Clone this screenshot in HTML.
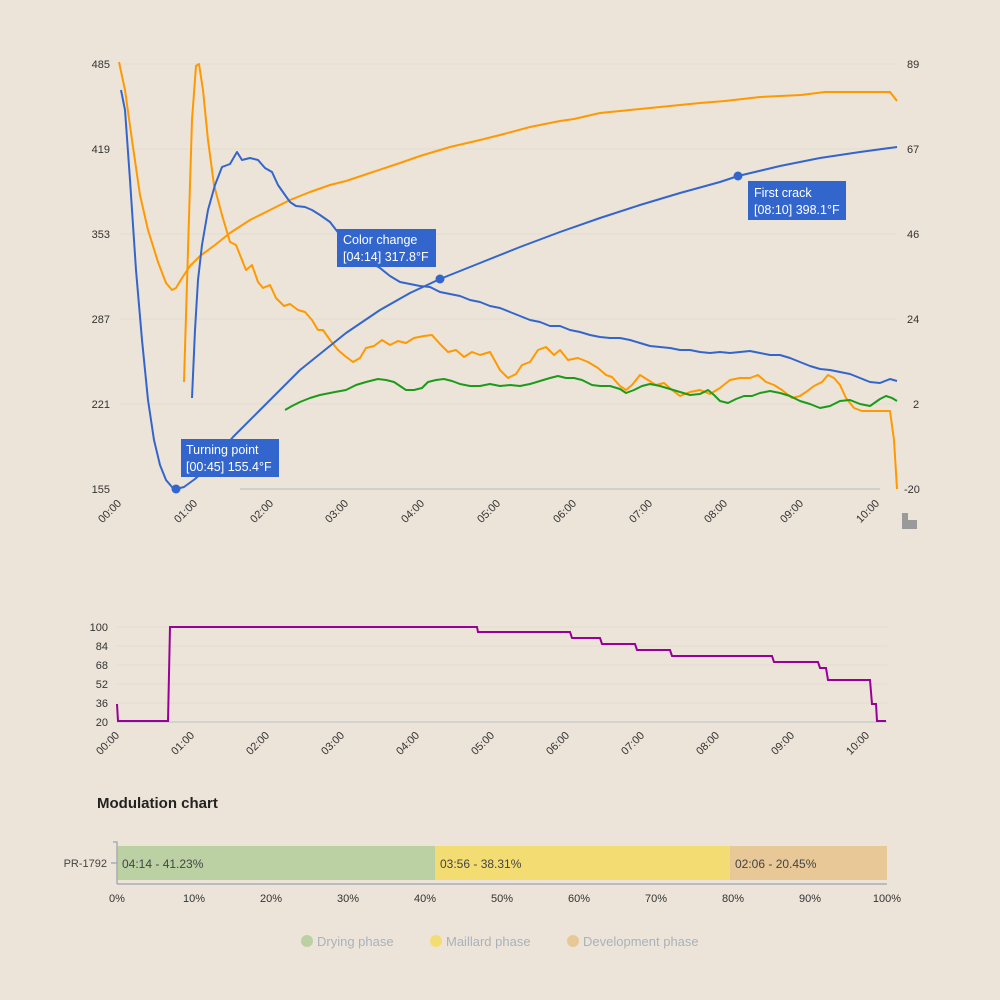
<!DOCTYPE html>
<html><head><meta charset="utf-8"><style>
body{margin:0;background:#ece4d8;}
svg{display:block;font-family:"Liberation Sans",sans-serif;}
</style></head><body>
<svg width="1000" height="1000" viewBox="0 0 1000 1000">
<rect width="1000" height="1000" fill="#ece4d8"/>
<!-- top chart grid -->
<g stroke="#e2dbd0" stroke-width="1">
<line x1="119" y1="64" x2="897" y2="64"/><line x1="119" y1="149" x2="897" y2="149"/><line x1="119" y1="234" x2="897" y2="234"/><line x1="119" y1="319" x2="897" y2="319"/><line x1="119" y1="404" x2="897" y2="404"/>
</g>
<line x1="240" y1="489" x2="880" y2="489" stroke="#c8c8c8" stroke-width="1.5"/>
<g font-size="11" fill="#333">
<text x="110" y="68" text-anchor="end">485</text><text x="110" y="153" text-anchor="end">419</text><text x="110" y="238" text-anchor="end">353</text><text x="110" y="323" text-anchor="end">287</text><text x="110" y="408" text-anchor="end">221</text><text x="110" y="493" text-anchor="end">155</text>
<text x="907" y="68">89</text><text x="907" y="153">67</text><text x="907" y="238">46</text><text x="907" y="323">24</text><text x="913" y="408">2</text><text x="904" y="493">-20</text>
</g>
<g font-size="11" fill="#333" text-anchor="end">
<text transform="translate(122,504) rotate(-45)">00:00</text><text transform="translate(198,504) rotate(-45)">01:00</text><text transform="translate(274,504) rotate(-45)">02:00</text><text transform="translate(349,504) rotate(-45)">03:00</text><text transform="translate(425,504) rotate(-45)">04:00</text><text transform="translate(501,504) rotate(-45)">05:00</text><text transform="translate(577,504) rotate(-45)">06:00</text><text transform="translate(653,504) rotate(-45)">07:00</text><text transform="translate(728,504) rotate(-45)">08:00</text><text transform="translate(804,504) rotate(-45)">09:00</text><text transform="translate(880,504) rotate(-45)">10:00</text>
</g>
<g fill="none" stroke-width="2" stroke-linejoin="round">
<polyline stroke="#ff9900" points="119,62 125,90 132,140 140,195 148,230 158,262 166,283 172,290 176,288 182,278 190,266 200,256 215,245 230,233 250,220 270,210 290,200 310,192 330,185 346,181 370,173 400,163 420,156 450,147 480,140 500,135 530,127 560,121 574,119 600,113 630,110 650,108 680,105 700,103 725,101 760,97 801,95 825,92 890,92 897,101"/>
<polyline stroke="#ff9900" points="184,382 188,250 192,120 196,66 199,64 203,90 208,140 214,185 222,215 230,242 236,245 242,260 246,270 252,265 258,282 263,288 270,285 276,298 284,306 290,304 298,310 305,312 312,320 318,330 323,330 330,340 338,350 345,356 353,362 360,358 366,348 374,346 382,340 390,345 398,341 406,343 414,338 424,336 432,335 440,344 448,352 456,350 464,357 472,352 480,355 490,352 500,370 508,378 516,374 522,365 530,362 538,350 546,347 554,355 560,350 568,360 578,358 588,362 598,368 606,375 612,377 620,386 626,390 632,385 640,375 648,380 656,385 664,383 672,390 680,396 690,392 700,390 710,394 720,388 730,380 740,378 750,378 758,375 766,382 774,385 782,390 792,398 800,396 806,392 814,386 822,382 828,375 834,378 840,385 846,398 854,408 862,411 870,411 890,411 894,440 897,489"/>
<polyline stroke="#3366cc" points="121,90 125,110 130,180 136,270 142,340 148,400 154,440 160,465 166,480 172,487 176,489 184,487 195,479 210,465 233,437 260,410 300,370 346,333 380,310 410,293 440,279 480,263 520,247 560,232 600,218 640,205 680,193 720,182 738,176 780,166 820,158 860,152 897,147"/>
<polyline stroke="#3366cc" points="192,398 195,330 198,280 202,245 208,210 215,185 222,167 230,164 237,152 242,160 250,158 258,160 265,168 272,172 278,185 285,195 290,202 296,206 305,207 312,210 320,215 330,222 340,235 350,245 360,252 370,262 380,268 390,276 400,282 410,284 420,286 430,287 440,292 450,294 460,296 470,300 480,302 490,306 500,308 510,312 520,316 530,320 540,322 550,326 560,326 570,330 580,332 590,335 600,337 610,338 620,338 630,340 640,343 650,346 660,347 670,348 680,350 690,350 700,352 710,353 720,352 730,353 740,352 750,351 760,353 770,355 780,355 790,358 800,362 810,366 820,369 830,370 840,372 850,374 860,378 870,382 880,383 890,379 897,381"/>
<polyline stroke="#1a9c1a" points="285,410 292,406 300,402 310,398 320,395 335,392 346,390 356,385 366,382 378,379 386,380 394,382 400,386 406,390 414,390 422,388 428,382 436,380 444,379 452,381 460,384 470,386 480,386 490,384 500,386 510,385 520,386 530,384 540,381 550,378 558,376 566,378 574,378 582,380 592,385 600,386 610,386 620,389 626,393 634,390 642,386 650,384 660,386 670,389 680,392 690,395 700,394 708,390 714,395 720,401 728,403 736,399 744,396 752,396 760,393 770,391 780,393 790,396 800,401 810,404 820,408 830,406 840,401 850,400 860,404 870,406 880,399 886,396 892,398 897,401"/>
</g>
<circle cx="176" cy="489" r="4.5" fill="#3366cc"/><circle cx="440" cy="279" r="4.5" fill="#3366cc"/><circle cx="738" cy="176" r="4.5" fill="#3366cc"/>
<g font-size="12.5" fill="#fff">
<rect x="181" y="439" width="98" height="38" fill="#3366cc"/><text x="186" y="454">Turning point</text><text x="186" y="471">[00:45] 155.4°F</text>
<rect x="337" y="229" width="99" height="38" fill="#3366cc"/><text x="343" y="244">Color change</text><text x="343" y="261">[04:14] 317.8°F</text>
<rect x="748" y="181" width="98" height="39" fill="#3366cc"/><text x="754" y="197">First crack</text><text x="754" y="214">[08:10] 398.1°F</text>
</g>
<path d="M902 513h6v7h9v9h-15z" fill="#9a9a9a"/>
<!-- second chart -->
<g stroke="#e2dbd0" stroke-width="1">
<line x1="117" y1="627" x2="887" y2="627"/><line x1="117" y1="646" x2="887" y2="646"/><line x1="117" y1="665" x2="887" y2="665"/><line x1="117" y1="684" x2="887" y2="684"/><line x1="117" y1="703" x2="887" y2="703"/>
</g>
<line x1="117" y1="722" x2="887" y2="722" stroke="#c8ccd0" stroke-width="1.5"/>
<g font-size="11" fill="#333" text-anchor="end">
<text x="108" y="631">100</text><text x="108" y="650">84</text><text x="108" y="669">68</text><text x="108" y="688">52</text><text x="108" y="707">36</text><text x="108" y="726">20</text>
<text transform="translate(120,736) rotate(-45)">00:00</text><text transform="translate(195,736) rotate(-45)">01:00</text><text transform="translate(270,736) rotate(-45)">02:00</text><text transform="translate(345,736) rotate(-45)">03:00</text><text transform="translate(420,736) rotate(-45)">04:00</text><text transform="translate(495,736) rotate(-45)">05:00</text><text transform="translate(570,736) rotate(-45)">06:00</text><text transform="translate(645,736) rotate(-45)">07:00</text><text transform="translate(720,736) rotate(-45)">08:00</text><text transform="translate(795,736) rotate(-45)">09:00</text><text transform="translate(870,736) rotate(-45)">10:00</text>
</g>
<polyline fill="none" stroke="#990099" stroke-width="2" points="117,704 118,721 168,721 170,627 477,627 478,632 570,632 572,638 600,638 602,644 635,644 637,650 670,650 672,656 772,656 774,662 818,662 820,668 826,668 828,680 870,680 872,704 876,704 877,721 886,721"/>
<text x="97" y="808" font-size="15" font-weight="bold" fill="#222">Modulation chart</text>
<rect x="117" y="846" width="318" height="34" fill="#bbd1a4"/>
<rect x="435" y="846" width="295" height="34" fill="#f3dd72"/>
<rect x="730" y="846" width="157" height="34" fill="#e8c896"/>
<g stroke="#a8adb5" stroke-width="1.5" fill="none"><path d="M113 842h4v42"/><line x1="117" y1="884" x2="887" y2="884"/><line x1="111" y1="863" x2="117" y2="863"/></g>
<g font-size="12" fill="#444">
<text x="122" y="868">04:14 - 41.23%</text><text x="440" y="868">03:56 - 38.31%</text><text x="735" y="868">02:06 - 20.45%</text>
<text x="107" y="867" text-anchor="end" font-size="11">PR-1792</text>
</g>
<g font-size="11" fill="#333" text-anchor="middle">
<text x="117" y="902">0%</text><text x="194" y="902">10%</text><text x="271" y="902">20%</text><text x="348" y="902">30%</text><text x="425" y="902">40%</text><text x="502" y="902">50%</text><text x="579" y="902">60%</text><text x="656" y="902">70%</text><text x="733" y="902">80%</text><text x="810" y="902">90%</text><text x="887" y="902">100%</text>
</g>
<g font-size="13" fill="#a9b2ba">
<circle cx="307" cy="941" r="6" fill="#bbd1a4"/><text x="317" y="946">Drying phase</text>
<circle cx="436" cy="941" r="6" fill="#f3dd72"/><text x="446" y="946">Maillard phase</text>
<circle cx="573" cy="941" r="6" fill="#e8c896"/><text x="583" y="946">Development phase</text>
</g>
</svg>
</body></html>
